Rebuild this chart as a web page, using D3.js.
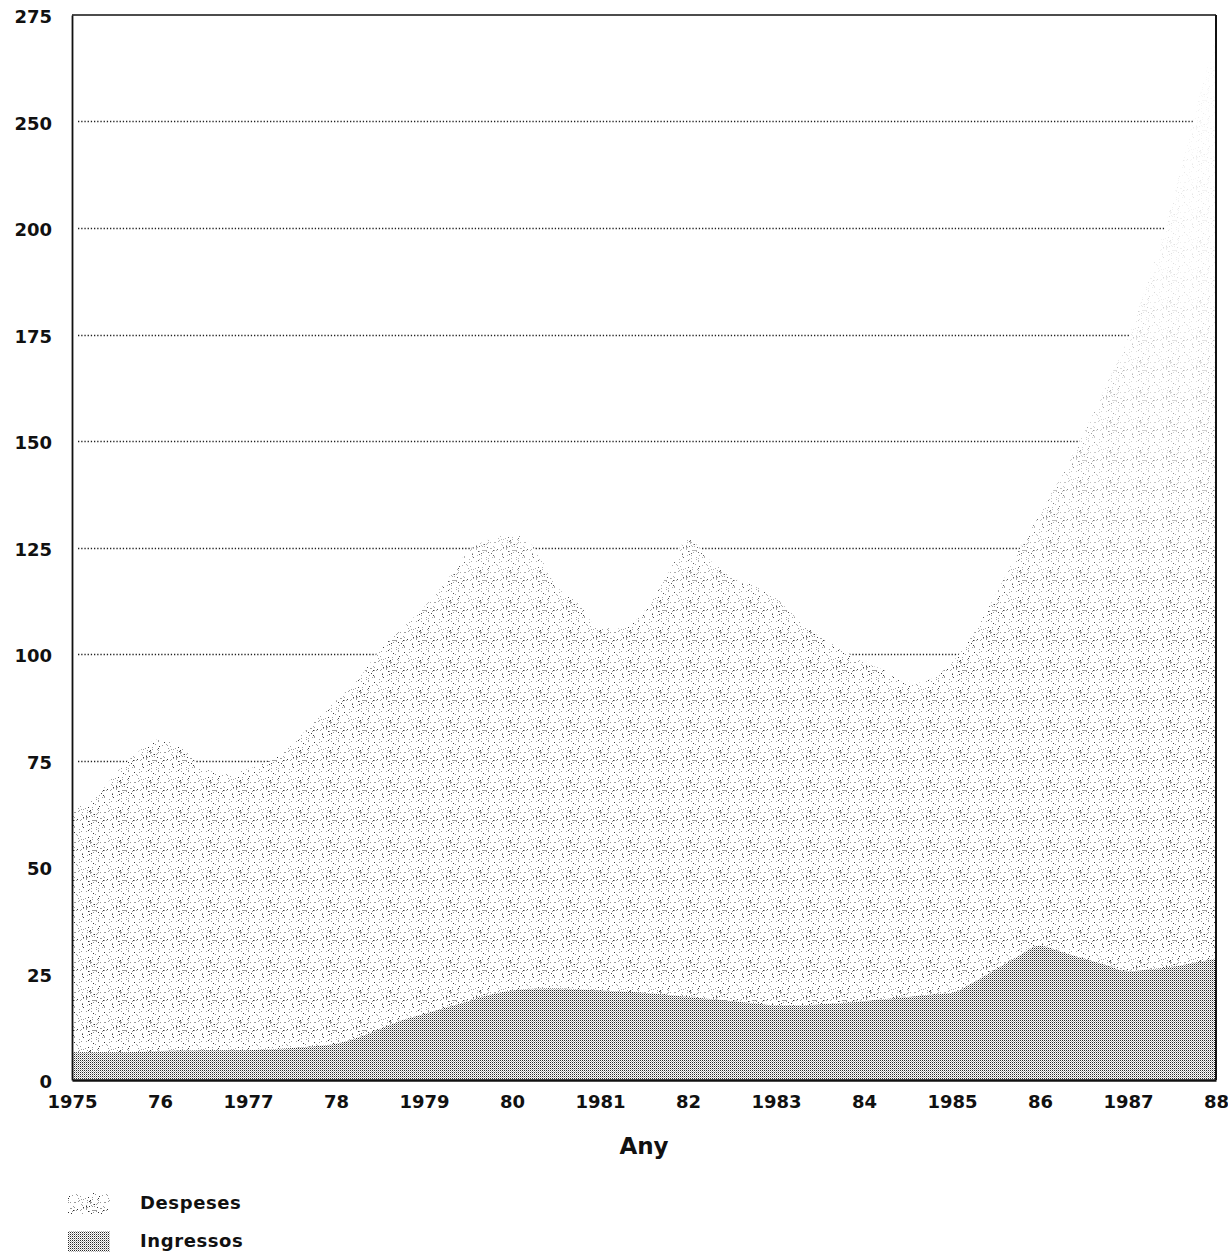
<!DOCTYPE html>
<html>
<head>
<meta charset="utf-8">
<script src="https://cdn.jsdelivr.net/npm/d3@7"></script>
<style>
  html, body { margin: 0; padding: 0; background: #fff; }
  svg { display: block; }
  text { font-family: "DejaVu Sans", "Liberation Sans", Arial, sans-serif; font-weight: bold; fill: #111; }
</style>
</head>
<body>
<script>
// ---- Data ----
const years = [
  1975.00, 1975.25, 1975.50, 1975.75,
  1976.00, 1976.25, 1976.50, 1976.75,
  1977.00, 1977.25, 1977.50, 1977.75,
  1978.00, 1978.25, 1978.50, 1978.75,
  1979.00, 1979.25, 1979.50, 1979.75,
  1980.00, 1980.25, 1980.50, 1980.75,
  1981.00, 1981.25, 1981.50, 1981.75,
  1982.00, 1982.25, 1982.50, 1982.75,
  1983.00, 1983.25, 1983.50, 1983.75,
  1984.00, 1984.25, 1984.50, 1984.75,
  1985.00, 1985.25, 1985.50, 1985.75,
  1986.00, 1986.25, 1986.50, 1986.75,
  1987.00, 1987.25, 1987.50, 1987.75,
  1988.00
];
const despeses = [
  64, 66, 72, 77,
  80, 78, 73, 72,
  73, 75, 79, 84,
  89, 94, 101, 106,
  111, 117, 124, 127,
  128, 125, 116, 112,
  106, 106, 110, 118,
  127, 122, 118, 116,
  113, 108, 104, 101,
  98, 96, 93, 94,
  98, 105, 114, 124,
  133, 142, 152, 163,
  174, 189, 206, 226,
  245
];
const ingressos = [
  6.5, 6.5, 6.5, 6.6,
  6.8, 6.9, 7.0, 7.0,
  7.0, 7.2, 7.5, 7.9,
  8.5, 10, 12, 14,
  15.5, 17, 18.5, 20,
  21, 21.4, 21.5, 21.3,
  21, 20.8, 20.5, 20,
  19.5, 19, 18.5, 18,
  17.5, 17.5, 17.8, 18.1,
  18.5, 19, 19.5, 20,
  20.5, 23, 26, 29,
  31.5, 30, 28.5, 27,
  25.5, 26, 26.5, 27.5,
  28.5
];
const xTickValues = [1975, 1976, 1977, 1978, 1979, 1980, 1981, 1982, 1983, 1984, 1985, 1986, 1987, 1988];
const xTickLabels = ["1975", "76", "1977", "78", "1979", "80", "1981", "82", "1983", "84", "1985", "86", "1987", "88"];
const yTickValues = [0, 25, 50, 75, 100, 125, 150, 175, 200, 225, 250];
const yTickLabels = ["0", "25", "50", "75", "100", "125", "150", "175", "200", "250", "275"];
const gridValues = [25, 50, 75, 100, 125, 150, 175, 200, 225];
const seriesNames = ["Despeses", "Ingressos"];
const xTitle = "Any";

// ---- Layout ----
const W = 1228, H = 1255;
const pL = 72, pR = 1216, pT = 15, pB = 1080;

const svg = d3.select("body").append("svg").attr("width", W).attr("height", H);
const defs = svg.append("defs");

// Light stipple pattern for Despeses
const pD = defs.append("pattern").attr("id", "stipple")
  .attr("patternUnits", "userSpaceOnUse").attr("width", 30).attr("height", 30);
for (let i = 0; i < 30; i++) {
  for (let j = 0; j < 30; j++) {
    const h = (((i * 2654435761) ^ (j * 40503 + i * j * 97)) >>> 0) % 100;
    if (h < 12) {
      pD.append("rect").attr("x", i).attr("y", j).attr("width", 1).attr("height", 1)
        .attr("fill", h < 2 ? "#333" : "#9a9a9a");
    }
  }
}
// Vertical fade for the stipple (denser low, sparser high)
const grad = defs.append("linearGradient").attr("id", "fade")
  .attr("gradientUnits", "userSpaceOnUse").attr("x1", 0).attr("x2", 0)
  .attr("y1", pB).attr("y2", pT);
grad.append("stop").attr("offset", 0).attr("stop-color", "#fff");
grad.append("stop").attr("offset", 0.42).attr("stop-color", "#f4f4f4");
grad.append("stop").attr("offset", 0.58).attr("stop-color", "#888");
grad.append("stop").attr("offset", 0.75).attr("stop-color", "#2a2a2a");
grad.append("stop").attr("offset", 1).attr("stop-color", "#080808");
const mask = defs.append("mask").attr("id", "fadeMask")
  .attr("maskUnits", "userSpaceOnUse").attr("x", 0).attr("y", 0).attr("width", W).attr("height", H);
mask.append("rect").attr("x", 0).attr("y", 0).attr("width", W).attr("height", H).attr("fill", "url(#fade)");

// Dense checker pattern for Ingressos
const pI = defs.append("pattern").attr("id", "checker")
  .attr("patternUnits", "userSpaceOnUse").attr("width", 2).attr("height", 2);
pI.append("rect").attr("width", 2).attr("height", 2).attr("fill", "#fff");
pI.append("rect").attr("x", 0).attr("y", 0).attr("width", 1).attr("height", 1).attr("fill", "#2a2a2a");
pI.append("rect").attr("x", 1).attr("y", 1).attr("width", 1).attr("height", 1).attr("fill", "#b0b0b0");

const x = d3.scaleLinear().domain([1975, 1988]).range([pL, pR]);
const y = d3.scaleLinear().domain([0, 250]).range([pB, pT]);

// Gridlines (dotted)
svg.append("g").selectAll("line").data(gridValues).join("line")
  .attr("x1", pL + 6).attr("x2", pR - 2)
  .attr("y1", d => Math.round(y(d)) + 0.5).attr("y2", d => Math.round(y(d)) + 0.5)
  .attr("stroke", "#222").attr("stroke-width", 1.3).attr("stroke-dasharray", "1.3,1.9");

const pts = years.map((yr, i) => ({ yr, d: despeses[i], g: ingressos[i] }));

const areaD = d3.area().x(p => x(p.yr)).y0(y(0)).y1(p => y(p.d)).curve(d3.curveMonotoneX);
const areaI = d3.area().x(p => x(p.yr)).y0(y(0)).y1(p => y(p.g)).curve(d3.curveMonotoneX);

// Despeses: opaque white base (hides gridlines) + faded stipple
svg.append("path").datum(pts).attr("d", areaD).attr("fill", "#fff");
svg.append("path").datum(pts).attr("d", areaD).attr("fill", "url(#stipple)").attr("mask", "url(#fadeMask)");
// Ingressos
svg.append("path").datum(pts).attr("d", areaI).attr("fill", "url(#checker)");

// Frame
svg.append("line").attr("x1", pL).attr("x2", pR).attr("y1", pT).attr("y2", pT)
  .attr("stroke", "#111").attr("stroke-width", 1.5);
svg.append("line").attr("x1", pR).attr("x2", pR).attr("y1", pT).attr("y2", pB)
  .attr("stroke", "#111").attr("stroke-width", 2);

// Axes
const yAxis = d3.axisLeft(y).tickValues(yTickValues).tickSize(0).tickPadding(20)
  .tickFormat((d, i) => yTickLabels[i]);
const gy = svg.append("g").attr("transform", `translate(${pL},0)`).call(yAxis);
gy.select(".domain").attr("stroke", "#111").attr("stroke-width", 1.8);
gy.selectAll(".tick text").attr("font-size", 18).attr("font-family", "DejaVu Sans, Liberation Sans, sans-serif")
  .attr("font-weight", "bold").attr("fill", "#111").attr("dy", "0.42em");

const xAxis = d3.axisBottom(x).tickValues(xTickValues).tickSize(0).tickPadding(15)
  .tickFormat((d, i) => xTickLabels[i]);
const gx = svg.append("g").attr("transform", `translate(0,${pB})`).call(xAxis);
gx.select(".domain").attr("stroke", "#111").attr("stroke-width", 2.5);
gx.selectAll(".tick text").attr("font-size", 18).attr("font-family", "DejaVu Sans, Liberation Sans, sans-serif")
  .attr("font-weight", "bold").attr("fill", "#111");

// X title
svg.append("text").attr("x", (pL + pR) / 2).attr("y", 1154)
  .attr("text-anchor", "middle").attr("font-size", 23).text(xTitle);

// Legend
const legend = svg.append("g");
const fills = ["url(#stipple)", "url(#checker)"];
seriesNames.forEach((name, i) => {
  const ly = 1193 + i * 38;
  legend.append("rect").attr("x", 68).attr("y", ly).attr("width", 42).attr("height", 21)
    .attr("fill", fills[i]);
  legend.append("text").attr("x", 140).attr("y", ly + 16).attr("font-size", 18)
    .attr("letter-spacing", 0.6).text(name);
});
</script>
</body>
</html>
